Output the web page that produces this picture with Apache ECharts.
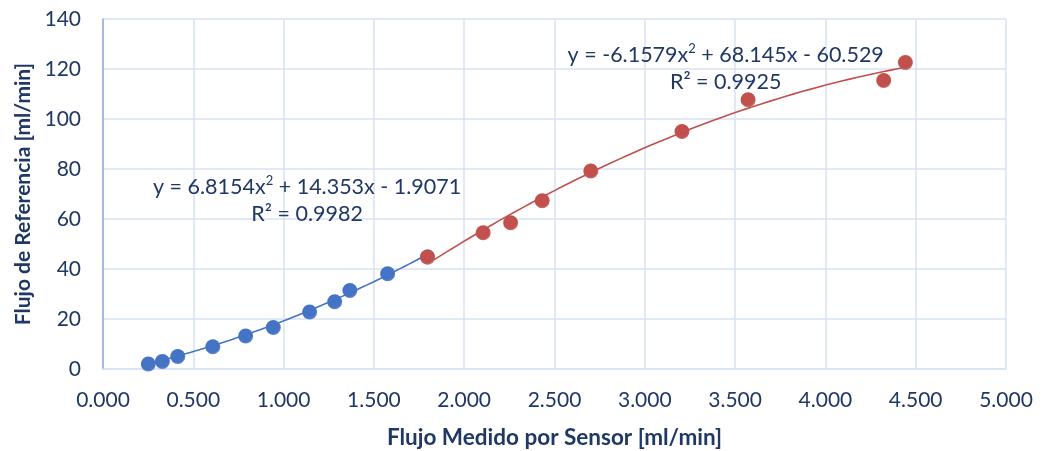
<!DOCTYPE html>
<html>
<head>
<meta charset="utf-8">
<style>
  html, body { margin: 0; padding: 0; background: #ffffff; }
  #chart { width: 1042px; height: 451px; }
</style>
<script src="https://cdn.jsdelivr.net/npm/echarts@6/dist/echarts.min.js"></script>
</head>
<body>
<div id="chart"></div>
<script>
// Low-flow calibration points (sensor reading vs. reference flow)
const lowSensor = [0.251, 0.329, 0.414, 0.608, 0.790, 0.943, 1.144, 1.283, 1.367, 1.576, 1.797];
const lowRef    = [2.0,   3.0,   5.0,   8.9,   13.2,  16.6,  22.8,  26.9,  31.4,  38.1,  44.8];

// High-flow calibration points
const highSensor = [1.797, 2.105, 2.257, 2.432, 2.701, 3.206, 3.572, 4.323, 4.443];
const highRef    = [44.8,  54.5,  58.5,  67.3,  79.2,  95.0,  107.7, 115.4, 122.6];

// Quadratic trendline coefficients [a, b, c] for y = a x^2 + b x + c, and R^2
const lowFit  = [6.8154, 14.353, -1.9071];
const lowR2   = 0.9982;
const highFit = [-6.1579, 68.145, -60.529];
const highR2  = 0.9925;

const xTicks = ['0.000','0.500','1.000','1.500','2.000','2.500','3.000','3.500','4.000','4.500','5.000'];

const BLUE = '#4472C4';
const RED = '#C0504D';
const TEXT = '#1F3864';
const FONT = 'Lato, "Noto Sans", sans-serif';

function pairs(xs, ys) { return xs.map((x, i) => [x, ys[i]]); }

// Sample the fitted curve across the range covered by its series
function curve(coef, xs) {
  const lo = Math.min(...xs), hi = Math.max(...xs);
  const pts = [];
  const n = 60;
  for (let i = 0; i <= n; i++) {
    const x = lo + (hi - lo) * i / n;
    pts.push([x, coef[0] * x * x + coef[1] * x + coef[2]]);
  }
  return pts;
}

function fmtEq(coef) {
  const sign = v => (v < 0 ? ' - ' : ' + ');
  return {
    a: String(coef[0]),
    b: sign(coef[1]) + Math.abs(coef[1]) + 'x' + sign(coef[2]) + Math.abs(coef[2])
  };
}

const chart = echarts.init(document.getElementById('chart'), null, { renderer: 'canvas' });

const pointStyle = c => ({
  opacity: 1,
  color: {
    type: 'radial', x: 0.45, y: 0.4, r: 0.6,
    colorStops: [
      { offset: 0, color: echarts.color.lift(c, -0.02) },
      { offset: 0.75, color: c },
      { offset: 1, color: echarts.color.lift(c, 0.15) }
    ]
  }
});

chart.setOption({
  animation: false,
  backgroundColor: '#ffffff',
  grid: { left: 103, right: 36, top: 19, bottom: 82, containLabel: false, outerBoundsMode: 'none' },
  xAxis: {
    type: 'value', min: 0, max: 5, interval: 0.5,
    name: 'Flujo Medido por Sensor [ml/min]',
    nameLocation: 'middle', nameGap: 57,
    nameTextStyle: { color: TEXT, fontFamily: FONT, fontSize: 22.5, fontWeight: 'bold' },
    axisLine: { show: true, lineStyle: { color: '#D9E2F3', width: 1.5 } },
    axisTick: { show: false },
    axisLabel: {
      color: TEXT, fontFamily: FONT, fontSize: 21, margin: 21,
      formatter: v => xTicks[Math.round(v / 0.5)]
    },
    splitLine: { show: true, lineStyle: { color: '#D9E2F3', width: 1.5 } }
  },
  yAxis: {
    type: 'value', min: 0, max: 140, interval: 20,
    name: 'Flujo de Referencia [ml/min]',
    nameLocation: 'middle', nameGap: 69,
    nameTextStyle: { color: TEXT, fontFamily: FONT, fontSize: 21, fontWeight: 'bold' },
    axisLine: { show: true, lineStyle: { color: '#8FAADC', width: 1.5 } },
    axisTick: { show: false },
    axisLabel: { color: TEXT, fontFamily: FONT, fontSize: 21, margin: 22 },
    splitLine: { show: true, lineStyle: { color: '#D9E2F3', width: 1.5 } }
  },
  series: [
    {
      type: 'line', data: curve(lowFit, lowSensor), showSymbol: false, symbol: 'none',
      lineStyle: { color: BLUE, width: 1.6 }, z: 2, silent: true
    },
    {
      type: 'line', data: curve(highFit, highSensor), showSymbol: false, symbol: 'none',
      lineStyle: { color: RED, width: 1.6 }, z: 2, silent: true
    },
    {
      type: 'scatter', data: pairs(lowSensor, lowRef), symbolSize: 15,
      itemStyle: pointStyle(BLUE), z: 3
    },
    {
      type: 'scatter', data: pairs(highSensor, highRef), symbolSize: 15,
      itemStyle: pointStyle(RED), z: 4
    }
  ]
});

// Trendline equation labels, anchored at data coordinates
function eqText(coef, r2, xAnchor, yAnchor) {
  const p = chart.convertToPixel({ gridIndex: 0 }, [xAnchor, yAnchor]);
  const e = fmtEq(coef);
  const rich = {
    t: { fontFamily: FONT, fontSize: 21.5, fill: TEXT, color: TEXT },
    s: { fontFamily: FONT, fontSize: 13, fill: TEXT, color: TEXT, padding: [0, 0, 12, 0] }
  };
  return [
    {
      type: 'text', x: p[0], y: p[1],
      style: {
        text: '{t|y = ' + e.a + 'x}{s|2}{t|' + e.b + '}',
        rich: rich, fill: TEXT, align: 'center', verticalAlign: 'middle'
      }
    },
    {
      type: 'text', x: p[0], y: p[1] + 27,
      style: {
        text: 'R² = ' + r2, fill: TEXT, font: '21.5px ' + FONT,
        align: 'center', verticalAlign: 'middle'
      }
    }
  ];
}

chart.setOption({
  graphic: [].concat(
    eqText(lowFit, lowR2, 1.13, 72.9),
    eqText(highFit, highR2, 3.448, 125.7)
  )
});
</script>
</body>
</html>
